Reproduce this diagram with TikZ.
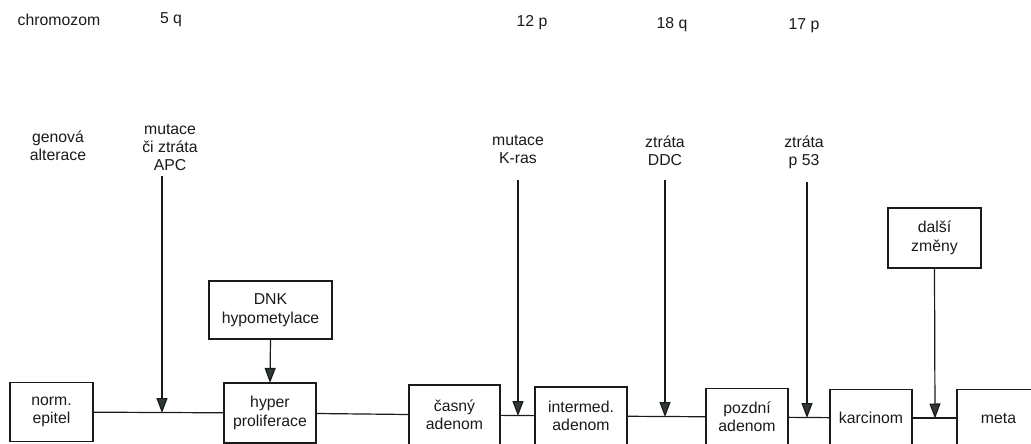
\documentclass[tikz,border=0pt]{standalone}
\usepackage{fontspec}
\setmainfont{Liberation Sans}
\usetikzlibrary{arrows.meta}
\definecolor{ink}{HTML}{1A1A1A}
\definecolor{tipc}{HTML}{2E3A35}
\tikzset{
  box/.style={draw=ink, line width=1.2pt, align=center, inner sep=0pt, font=\fontsize{15.8}{18.5}\selectfont, text=ink},
  lbl/.style={align=center, inner sep=0pt, font=\fontsize{15.8}{18}\selectfont, text=ink},
  link/.style={draw=ink, line width=1.2pt},
  hit/.style={draw=ink, line width=1.2pt, -{Triangle[width=11pt,length=15pt,fill=tipc]}, shorten >=-0.5pt},
}
\begin{document}
\begin{tikzpicture}[x=1pt,y=-1pt]
\useasboundingbox (0,0) rectangle (1031,444);
\clip (0,0) rectangle (1031,444);
% header texts
\node[lbl] (chrom) at (59,20) {chromozom};
\node[lbl] (c5q) at (171,20) {5 q};
\node[lbl] (c12p) at (532,23) {12 p};
\node[lbl] (c18q) at (672,25) {18 q};
\node[lbl] (c17p) at (804,26) {17 p};
\node[lbl] (gen) at (58,146) {genová\\alterace};
\node[lbl] (apc) at (170,147) {mutace\\či ztráta\\APC};
\node[lbl] (kras) at (518,149) {mutace\\K-ras};
\node[lbl] (ddc) at (665,151) {ztráta\\DDC};
\node[lbl] (p53) at (804,152) {ztráta\\p 53};
% bottom row boxes
\node[box, minimum width=83pt, minimum height=59pt] (norm) at (51.5,412) {norm.\\epitel};
\node[box, minimum width=92pt, minimum height=60pt] (hyper) at (270,413) {hyper\\proliferace};
\node[box, minimum width=91pt, minimum height=60pt] (casny) at (454.5,415) {časný\\adenom};
\node[box, minimum width=92pt, minimum height=58pt] (inter) at (581,416) {intermed.\\adenom};
\node[box, minimum width=82pt, minimum height=57pt] (pozdni) at (747,417) {pozdní\\adenom};
\node[box, minimum width=82pt, minimum height=57pt] (karc) at (871,418) {karcinom};
\node[box, minimum width=83pt, minimum height=57pt] (meta) at (998.5,418) {meta};
% upper boxes
\node[box, minimum width=123pt, minimum height=58pt] (dnk) at (270.5,310) {DNK\\hypometylace};
\node[box, minimum width=93pt, minimum height=60pt] (dalsi) at (934.5,238) {další\\změny};
% horizontal links
\draw[link] (norm) -- (hyper);
\draw[link] (hyper) -- (casny);
\draw[link] (casny) -- (inter);
\draw[link] (inter) -- (pozdni);
\draw[link] (pozdni) -- (karc);
\draw[link] (karc) -- (meta);
% arrow coordinates
\coordinate (s1) at (162,176);
\coordinate (t1) at (162,412.5);
\coordinate (s2) at (518,180);
\coordinate (t2) at (518,415.5);
\coordinate (s3) at (665,180);
\coordinate (t3) at (665,416.5);
\coordinate (s4) at (807,182);
\coordinate (t4) at (807,417.5);
\coordinate (t5) at (935,418);
\draw[hit] (s1) -- (t1);
\draw[hit] (s2) -- (t2);
\draw[hit] (s3) -- (t3);
\draw[hit] (s4) -- (t4);
\draw[hit] (dalsi.south) -- (t5);
\draw[hit] (dnk.south) -- (hyper.north);
\end{tikzpicture}
\end{document}
